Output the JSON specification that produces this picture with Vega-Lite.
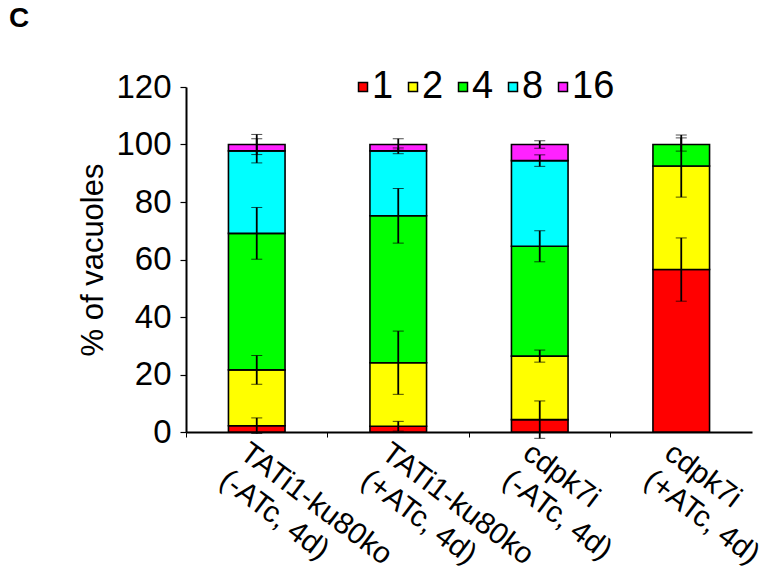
{
  "$schema": "https://vega.github.io/schema/vega-lite/v6.json",
  "autosize": "none",
  "width": 566,
  "height": 345,
  "padding": {"left": 186, "top": 87, "right": 19, "bottom": 144},
  "background": "white",
  "config": {
    "font": "Liberation Sans",
    "view": {"stroke": null},
    "axis": {"domainColor": "black", "tickColor": "black", "labelColor": "black", "titleColor": "black", "grid": false}
  },
  "title": {"text": "C", "anchor": "start", "frame": "group", "fontSize": 28, "fontWeight": "bold", "font": "Liberation Sans", "color": "black", "dx": -177, "dy": -31},
  "data": {
    "values": [
      {"group": "TATi1-ku80ko|(-ATc, 4d)", "k": 1, "cls": "1", "value": 2.2, "err": 2.7},
      {"group": "TATi1-ku80ko|(-ATc, 4d)", "k": 2, "cls": "2", "value": 19.4, "err": 5.0},
      {"group": "TATi1-ku80ko|(-ATc, 4d)", "k": 4, "cls": "4", "value": 47.5, "err": 9.0},
      {"group": "TATi1-ku80ko|(-ATc, 4d)", "k": 8, "cls": "8", "value": 28.7, "err": 4.2},
      {"group": "TATi1-ku80ko|(-ATc, 4d)", "k": 16, "cls": "16", "value": 2.2, "err": 3.5},
      {"group": "TATi1-ku80ko|(+ATc, 4d)", "k": 1, "cls": "1", "value": 2.0, "err": 1.7},
      {"group": "TATi1-ku80ko|(+ATc, 4d)", "k": 2, "cls": "2", "value": 22.1, "err": 11.0},
      {"group": "TATi1-ku80ko|(+ATc, 4d)", "k": 4, "cls": "4", "value": 51.1, "err": 9.5},
      {"group": "TATi1-ku80ko|(+ATc, 4d)", "k": 8, "cls": "8", "value": 22.6, "err": 1.0},
      {"group": "TATi1-ku80ko|(+ATc, 4d)", "k": 16, "cls": "16", "value": 2.2, "err": 2.0},
      {"group": "cdpk7i|(-ATc, 4d)", "k": 1, "cls": "1", "value": 4.3, "err": 6.5},
      {"group": "cdpk7i|(-ATc, 4d)", "k": 2, "cls": "2", "value": 22.1, "err": 2.1},
      {"group": "cdpk7i|(-ATc, 4d)", "k": 4, "cls": "4", "value": 38.2, "err": 5.4},
      {"group": "cdpk7i|(-ATc, 4d)", "k": 8, "cls": "8", "value": 29.8, "err": 2.0},
      {"group": "cdpk7i|(-ATc, 4d)", "k": 16, "cls": "16", "value": 5.6, "err": 1.3},
      {"group": "cdpk7i|(+ATc, 4d)", "k": 1, "cls": "1", "value": 56.5, "err": 11.0},
      {"group": "cdpk7i|(+ATc, 4d)", "k": 2, "cls": "2", "value": 36.0, "err": 10.8},
      {"group": "cdpk7i|(+ATc, 4d)", "k": 4, "cls": "4", "value": 7.5, "err": 2.3}
    ]
  },
  "transform": [
    {"stack": "value", "groupby": ["group"], "sort": [{"field": "k", "order": "ascending"}], "as": ["v0", "v1"]}
  ],
  "encoding": {
    "x": {
      "field": "group", "type": "nominal", "sort": null,
      "scale": {"paddingInner": 0.6, "paddingOuter": 0.3},
      "axis": {
        "title": null,
        "labelExpr": "split(datum.label, '|')",
        "labelAngle": 37,
        "labelAlign": "left",
        "labelBaseline": "top",
        "labelFontSize": 30,
        "labelLineHeight": 34,
        "labelPadding": 0,
        "labelOffset": -4,
        "labelLimit": 0,
        "bandPosition": -0.75,
        "tickSize": 5,
        "tickWidth": 1,
        "domainWidth": 2,
        "labelOverlap": false,
        "labelBound": false
      }
    }
  },
  "layer": [
    {
      "mark": {"type": "bar", "stroke": "black", "strokeWidth": 1.6},
      "encoding": {
        "y": {
          "field": "v1", "type": "quantitative", "title": "% of vacuoles",
          "scale": {"domain": [0, 120], "nice": false, "zero": true},
          "axis": {
            "title": "% of vacuoles",
            "titleFontSize": 31,
            "titleFontWeight": "normal",
            "titlePadding": 6,
            "labelFontSize": 33,
            "labelPadding": 9,
            "values": [0, 20, 40, 60, 80, 100, 120],
            "tickSize": 6,
            "tickWidth": 1.2,
            "domainWidth": 2
          }
        },
        "y2": {"field": "v0"},
        "color": {
          "field": "cls", "type": "nominal",
          "scale": {"domain": ["1", "2", "4", "8", "16"], "range": ["#ff0000", "#ffff00", "#00ff00", "#00ffff", "#ff22ff"]},
          "legend": {
            "title": null,
            "orient": "none",
            "direction": "horizontal",
            "legendX": 158,
            "legendY": -19,
            "padding": 0,
            "symbolType": "square",
            "symbolSize": 81,
            "symbolStrokeColor": "black",
            "symbolStrokeWidth": 1.5,
            "labelFontSize": 38,
            "labelColor": "black",
            "labelOffset": -10,
            "columnPadding": -50
          }
        }
      }
    },
    {
      "mark": {"type": "errorbar", "ticks": {"size": 11, "color": "black", "strokeWidth": 1.8}, "rule": {"color": "black", "strokeWidth": 1.8}},
      "encoding": {
        "y": {"field": "v1", "type": "quantitative", "title": "% of vacuoles"},
        "yError": {"field": "err"}
      }
    }
  ]
}
